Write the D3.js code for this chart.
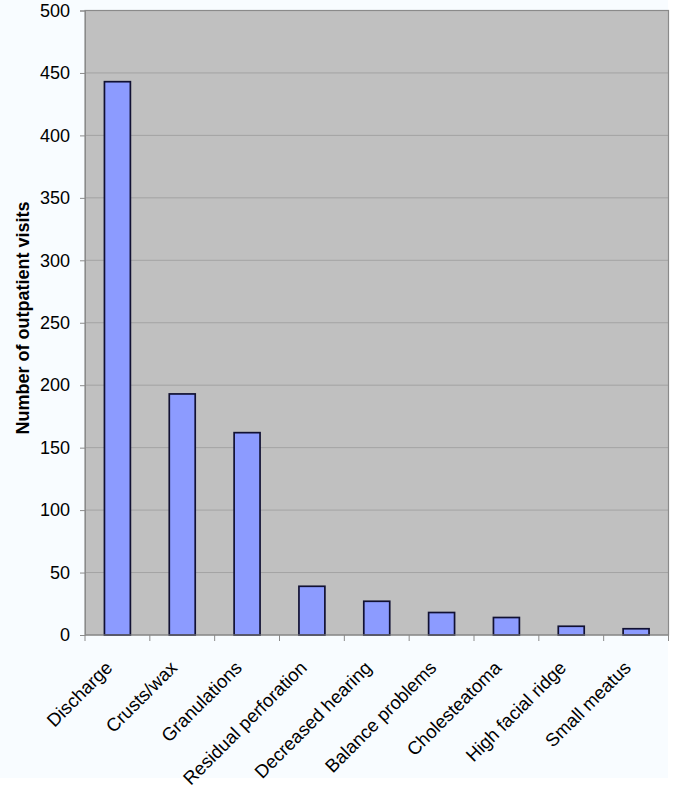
<!DOCTYPE html>
<html><head><meta charset="utf-8">
<script src="https://cdn.jsdelivr.net/npm/d3@7"></script>
<style>body{margin:0;background:#fff;}svg{display:block;font-family:"Liberation Sans",Arial,sans-serif;}</style>
</head><body>
<svg id="c" width="685" height="788"></svg>
<script>
const categories = ["Discharge","Crusts/wax","Granulations","Residual perforation","Decreased hearing","Balance problems","Cholesteatoma","High facial ridge","Small meatus"];
const values = [443,193,162,39,27,18,14,7,5];
const yTicks = [0,50,100,150,200,250,300,350,400,450,500];
const yTitle = "Number of outpatient visits";

const svg = d3.select("#c");
svg.append("rect").attr("x",0).attr("y",0).attr("width",668).attr("height",778).attr("fill","#f8fcff");
const L=85,T=10.5,R=668.5,B=635;
const x = d3.scaleBand().domain(categories).range([L,R]).padding(0);
const y = d3.scaleLinear().domain([0,500]).range([B,T]);

svg.append("rect").attr("x",L).attr("y",T).attr("width",R-L).attr("height",B-T).attr("fill","#c0c0c0");
// grid
svg.append("g").selectAll("line").data(yTicks.filter(d=>d>0)).join("line")
  .attr("x1",L).attr("x2",R).attr("y1",d=>y(d)).attr("y2",d=>y(d))
  .attr("stroke","#a3a3a3").attr("stroke-width",1);
// plot border
svg.append("rect").attr("x",L).attr("y",T).attr("width",R-L).attr("height",B-T).attr("fill","none").attr("stroke","#8a8a8a").attr("stroke-width",1.2);

// bars
const bw = x.bandwidth()*0.4;
svg.append("g").selectAll("rect").data(values).join("rect")
  .attr("x",(d,i)=>x(categories[i])+x.bandwidth()/2-bw/2)
  .attr("y",d=>y(d)).attr("width",bw).attr("height",d=>B-y(d))
  .attr("fill","#8c9bff").attr("stroke","#111133").attr("stroke-width",1.7);

// y axis
const ya = d3.axisLeft(y).tickValues(yTicks).tickSize(5).tickPadding(10);
const gy = svg.append("g").attr("transform",`translate(${L},0)`).call(ya);
gy.select(".domain").attr("stroke","#8a8a8a");
gy.selectAll(".tick line").attr("stroke","#8a8a8a");
gy.selectAll("text").attr("font-size",18).attr("fill","#000").attr("font-family","Liberation Sans, Arial, sans-serif");

// x axis
const gx = svg.append("g").attr("transform",`translate(0,${B})`);
gx.append("line").attr("x1",L).attr("x2",R).attr("stroke","#8a8a8a").attr("stroke-width",1.2);
const bounds = categories.map(c=>x(c)).concat([R]);
gx.selectAll("line.t").data(bounds).join("line").attr("class","t")
  .attr("x1",d=>d).attr("x2",d=>d).attr("y1",0).attr("y2",6).attr("stroke","#8a8a8a");
gx.selectAll("text").data(categories).join("text")
  .attr("transform",d=>`translate(${x(d)+x.bandwidth()/2-4},34) rotate(-45)`)
  .attr("text-anchor","end").attr("font-size",18.5).attr("fill","#000").text(d=>d);

svg.append("text").attr("transform",`translate(29,318) rotate(-90)`)
  .attr("text-anchor","middle").attr("font-size",18).attr("font-weight","bold").text(yTitle);
</script>
</body></html>
